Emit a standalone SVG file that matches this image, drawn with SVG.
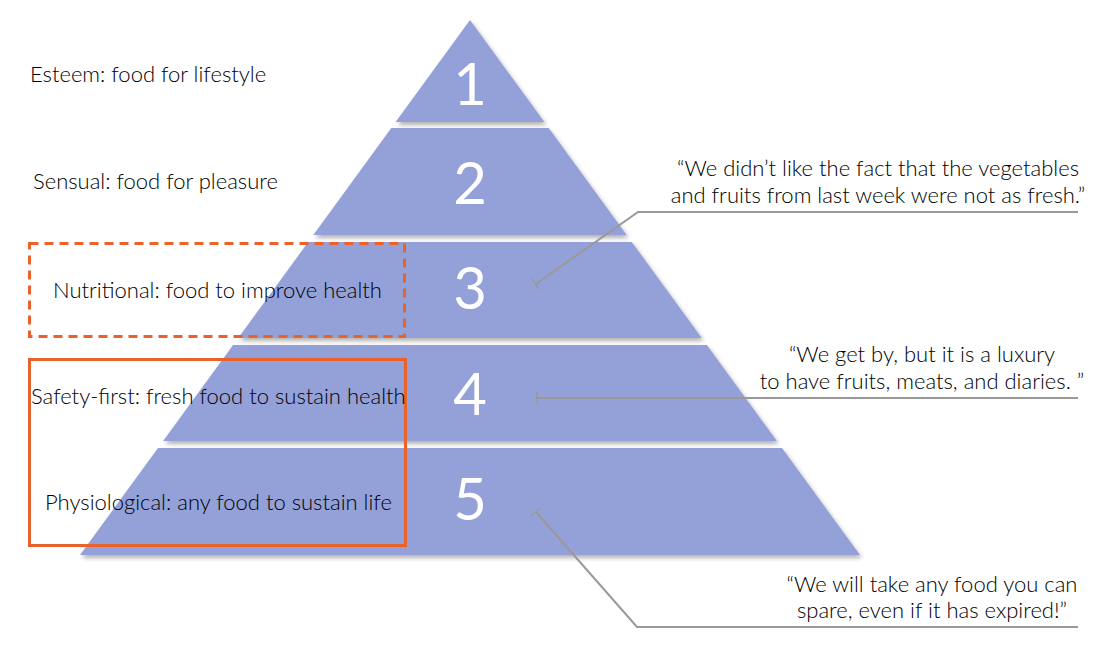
<svg xmlns="http://www.w3.org/2000/svg" width="1112" height="651" viewBox="0 0 1112 651">
<defs>
<filter id="sh" x="-10%" y="-10%" width="120%" height="130%">
<feDropShadow dx="2" dy="3" stdDeviation="2" flood-color="#000" flood-opacity="0.3"/>
</filter>
</defs>
<style>
.layer{fill:#93a1d8;filter:url(#sh)}
.num{font-family:Lato,"Liberation Sans",sans-serif;font-weight:400;font-size:58px;fill:#fff;text-anchor:middle}
.lbl{font-family:Lato,"Liberation Sans",sans-serif;font-weight:300;font-size:22px;fill:#000}
.q{font-family:Lato,"Liberation Sans",sans-serif;font-weight:300;font-size:22px;fill:#000;text-anchor:middle}
.conn{fill:none;stroke:#999;stroke-width:2}
.tick{fill:none;stroke:#999;stroke-width:1.5}
.box{fill:none;stroke:#e8622a;stroke-width:3}
</style>
<g id="layer1"><polygon class="layer" points="470,20 544.4,122 395.6,122"/><text class="num" x="470" y="105">1</text></g>
<g id="layer2"><polygon class="layer" points="391.3,128 548.7,128 626.7,235 313.3,235"/><text class="num" x="470" y="204">2</text></g>
<g id="layer3"><polygon class="layer" points="308.2,242 631.8,242 701.8,338 238.2,338"/><text class="num" x="470" y="309">3</text></g>
<g id="layer4"><polygon class="layer" points="233.1,345 706.9,345 776.9,441 163.1,441"/><text class="num" x="470" y="415">4</text></g>
<g id="layer5"><polygon class="layer" points="158,448 782,448 860,555 80,555"/><text class="num" x="470" y="520">5</text></g>
<g id="label1"><text class="lbl" x="30" y="82">Esteem: food for lifestyle</text></g>
<g id="label2"><text class="lbl" x="33" y="189">Sensual: food for pleasure</text></g>
<g id="label3"><rect class="box" x="29.5" y="243.5" width="375" height="93" stroke-dasharray="9,6"/><text class="lbl" x="53" y="298">Nutritional: food to improve health</text></g>
<g id="label45"><rect class="box" x="29.5" y="359.5" width="376" height="186"/><text class="lbl" x="31" y="404">Safety-first: fresh food to sustain health</text><text class="lbl" x="45" y="510">Physiological: any food to sustain life</text></g>
<g id="quote1"><text class="q" x="878" y="176">“We didn’t like the fact that the vegetables</text><text class="q" x="878" y="203">and fruits from last week were not as fresh.”</text></g>
<g id="quote2"><text class="q" x="922" y="362">“We get by, but it is a luxury</text><text class="q" x="922" y="389">to have fruits, meats, and diaries. ”</text></g>
<g id="quote3"><text class="q" x="932" y="592">“We will take any food you can</text><text class="q" x="932" y="618">spare, even if it has expired!”</text></g>
<g id="connectors">
<polyline class="conn" points="1078,212 638,212 536,284"/>
<line class="tick" x1="532" y1="279" x2="539" y2="289"/>
<polyline class="conn" points="1078,398 537,398"/>
<line class="tick" x1="537" y1="392" x2="537" y2="404"/>
<polyline class="conn" points="1078,627 637,627 536,512"/>
<line class="tick" x1="531" y1="516" x2="540" y2="508"/>
</g>
</svg>
